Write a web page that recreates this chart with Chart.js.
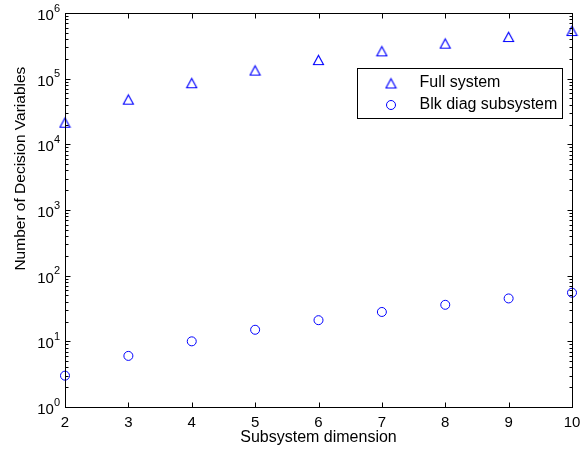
<!DOCTYPE html>
<html>
<head>
<meta charset="utf-8">
<script src="https://cdn.jsdelivr.net/npm/chart.js@4/dist/chart.umd.min.js"></script>
<style>
  html, body { margin: 0; padding: 0; background: #fff; }
  canvas { display: block; }
</style>
</head>
<body>
<canvas id="c" width="588" height="455"></canvas>
<script>
// ---- data ----
const dims = [2, 3, 4, 5, 6, 7, 8, 9, 10];
const fullSystem = [21700, 48800, 86700, 135000, 195000, 265000, 347000, 438000, 541000];
const blkDiagSubsystem = [3, 6, 10, 15, 21, 28, 36, 45, 55];
const yDecades = [1, 10, 100, 1000, 10000, 100000, 1000000];
const seriesLabels = ['Full system', 'Blk diag subsystem'];
const xTitle = 'Subsystem dimension';
const yTitle = 'Number of Decision Variables';

const FONT = '"Liberation Sans", Arial, Helvetica, sans-serif';
const BLUE = '#0000ff';

function pts(xs, ys) { return xs.map((x, i) => ({ x: x, y: ys[i] })); }

// MATLAB-like '^' marker: triangle centred on its bounding box
function makeTriangle(color) {
  const c = document.createElement('canvas');
  c.width = 13; c.height = 13;
  const g = c.getContext('2d');
  g.strokeStyle = color;
  g.lineWidth = 1.15;
  g.lineJoin = 'miter';
  g.beginPath();
  g.moveTo(6.5, 2.2);
  g.lineTo(11.5, 11.5);
  g.lineTo(1.5, 11.5);
  g.closePath();
  g.stroke();
  return c;
}
const triMarker = makeTriangle(BLUE);

const framePlugin = {
  id: 'matlabFrame',
  afterDraw(chart) {
    const ctx = chart.ctx;
    const ca = chart.chartArea;
    const xs = chart.scales.x, ys = chart.scales.y;
    const L = Math.round(ca.left) + 0.5, R = Math.round(ca.right) + 0.5;
    const T = Math.round(ca.top) + 0.5, B = Math.round(ca.bottom) + 0.5;
    ctx.save();
    ctx.strokeStyle = '#000';
    ctx.lineWidth = 1;
    ctx.strokeRect(L, T, R - L, B - T);
    ctx.beginPath();
    xs.ticks.forEach(t => {
      const p = Math.round(xs.getPixelForValue(t.value)) + 0.5;
      ctx.moveTo(p, B); ctx.lineTo(p, B - 5);
      ctx.moveTo(p, T); ctx.lineTo(p, T + 5);
    });
    yDecades.forEach((d, i) => {
      const p = Math.round(ys.getPixelForValue(d)) + 0.5;
      ctx.moveTo(L, p); ctx.lineTo(L + 5, p);
      ctx.moveTo(R, p); ctx.lineTo(R - 5, p);
      if (i < yDecades.length - 1) {
        for (let m = 2; m <= 9; m++) {
          const q = Math.round(ys.getPixelForValue(d * m)) + 0.5;
          ctx.moveTo(L, q); ctx.lineTo(L + 3, q);
          ctx.moveTo(R, q); ctx.lineTo(R - 3, q);
        }
      }
    });
    ctx.stroke();

    // y tick labels 10^n
    ctx.fillStyle = '#000';
    yDecades.forEach(d => {
      const p = ys.getPixelForValue(d);
      const e = String(Math.round(Math.log10(d)));
      ctx.font = '15px ' + FONT;
      const w1 = ctx.measureText('10').width;
      ctx.font = '11px ' + FONT;
      const w2 = ctx.measureText(e).width;
      const right = ca.left - 5;
      ctx.font = '15px ' + FONT;
      ctx.textAlign = 'left';
      ctx.textBaseline = 'alphabetic';
      ctx.fillText('10', right - w2 - w1, p + 7);
      ctx.font = '11px ' + FONT;
      ctx.fillText(e, right - w2, p - 1.5);
    });

    // y axis title (placed as in the reference, above the axis centre)
    ctx.save();
    ctx.translate(21, ca.top + (ca.bottom - ca.top) * 0.395);
    ctx.rotate(-Math.PI / 2);
    ctx.font = '15.5px ' + FONT;
    ctx.textAlign = 'center';
    ctx.textBaseline = 'middle';
    ctx.fillStyle = '#000';
    ctx.fillText(yTitle, 0, 0);
    ctx.restore();

    // legend
    const lx = Math.round(ca.right) - 215 + 0.5, ly = Math.round(ca.top) + 55 + 0.5;
    const lw = 205, lh = 50;
    ctx.fillStyle = '#fff';
    ctx.fillRect(lx, ly, lw, lh);
    ctx.strokeStyle = '#000';
    ctx.strokeRect(lx, ly, lw, lh);
    chart.data.datasets.forEach((ds, i) => {
      const yy = Math.round(ly + 14 + i * 22);
      const xx = Math.round(lx + 33);
      if (ds.pointStyle === 'circle') {
        ctx.strokeStyle = ds.borderColor;
        ctx.lineWidth = 1;
        ctx.beginPath();
        ctx.arc(xx, yy, ds.pointRadius, 0, Math.PI * 2);
        ctx.stroke();
      } else {
        ctx.drawImage(ds.pointStyle, xx - 6.5, yy - 6.5);
      }
      ctx.fillStyle = '#000';
      ctx.font = '16px ' + FONT;
      ctx.textBaseline = 'middle';
      ctx.textAlign = 'left';
      ctx.fillText(ds.label, lx + 62, yy);
    });
    ctx.restore();
  }
};

new Chart(document.getElementById('c'), {
  type: 'scatter',
  data: {
    datasets: [
      {
        label: seriesLabels[0],
        data: pts(dims, fullSystem),
        pointStyle: triMarker,
        pointRadius: 6,
        pointHoverRadius: 6,
        borderColor: BLUE,
        backgroundColor: 'rgba(0,0,0,0)',
        borderWidth: 1,
        clip: false
      },
      {
        label: seriesLabels[1],
        data: pts(dims, blkDiagSubsystem),
        pointStyle: 'circle',
        pointRadius: 4.5,
        pointHoverRadius: 4.5,
        borderColor: BLUE,
        backgroundColor: 'rgba(0,0,0,0)',
        borderWidth: 1,
        clip: false
      }
    ]
  },
  options: {
    responsive: false,
    animation: false,
    events: [],
    layout: { padding: { left: 0, right: 16, top: 13, bottom: 0 } },
    plugins: { legend: { display: false }, tooltip: { enabled: false } },
    scales: {
      x: {
        type: 'linear',
        min: 2, max: 10,
        grid: { display: false, drawTicks: false },
        border: { display: false },
        ticks: { stepSize: 1, padding: 7, color: '#000', font: { family: FONT, size: 15 } },
        title: { display: true, text: xTitle, color: '#000', font: { family: FONT, size: 16 }, padding: { top: 0, bottom: 7.7 } },
        afterFit: s => { s.height = 48; }
      },
      y: {
        type: 'logarithmic',
        min: 1, max: 1000000,
        grid: { display: false, drawTicks: false },
        border: { display: false },
        ticks: { display: false },
        afterBuildTicks: s => { s.ticks = yDecades.map(v => ({ value: v })); },
        title: { display: false },
        afterFit: s => { s.width = 65; }
      }
    }
  },
  plugins: [framePlugin]
});
</script>
</body>
</html>
